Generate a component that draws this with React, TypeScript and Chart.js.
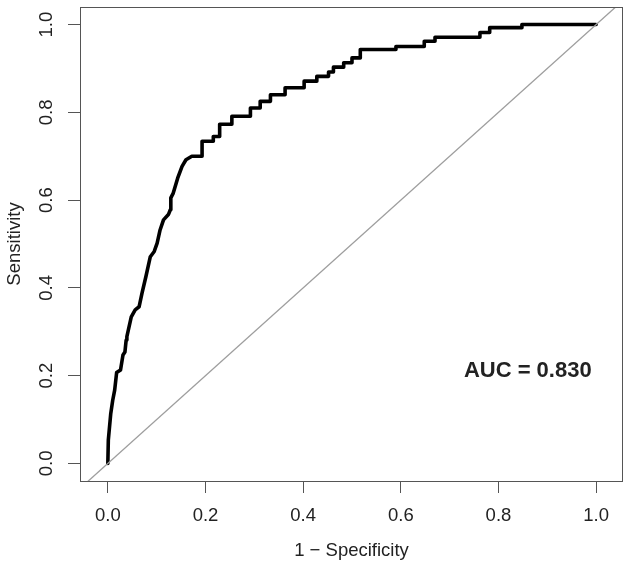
import React, { useEffect, useRef } from "react";
import { Chart, registerables } from "chart.js";

Chart.register(...registerables);

// ROC curve vertices (1 - specificity, sensitivity)
const fpr = [
  0, 0.001, 0.006, 0.010, 0.014, 0.018, 0.026, 0.031, 0.035, 0.0375, 0.039,
  0.048, 0.056, 0.064, 0.070, 0.078, 0.087, 0.095, 0.101, 0.107, 0.114, 0.124,
  0.128, 0.129, 0.134, 0.143, 0.152, 0.160, 0.172, 0.193, 0.193, 0.216, 0.216,
  0.229, 0.229, 0.254, 0.254, 0.292, 0.292, 0.312, 0.312, 0.333, 0.333, 0.363,
  0.363, 0.402, 0.402, 0.428, 0.428, 0.452, 0.452, 0.462, 0.462, 0.483, 0.483,
  0.500, 0.500, 0.517, 0.517, 0.590, 0.590, 0.648, 0.648, 0.670, 0.670, 0.762,
  0.762, 0.782, 0.782, 0.848, 0.848, 1.0,
];
const tpr = [
  0, 0.053, 0.114, 0.144, 0.167, 0.207, 0.213, 0.247, 0.254, 0.281, 0.289,
  0.334, 0.350, 0.357, 0.388, 0.426, 0.471, 0.483, 0.502, 0.532, 0.555, 0.567,
  0.578, 0.605, 0.616, 0.650, 0.677, 0.692, 0.700, 0.700, 0.734, 0.734, 0.745,
  0.745, 0.773, 0.773, 0.791, 0.791, 0.810, 0.810, 0.825, 0.825, 0.840, 0.840,
  0.856, 0.856, 0.871, 0.871, 0.882, 0.882, 0.892, 0.892, 0.903, 0.903, 0.913,
  0.913, 0.924, 0.924, 0.943, 0.943, 0.950, 0.950, 0.962, 0.962, 0.971, 0.971,
  0.982, 0.982, 0.993, 0.993, 1.0, 1.0,
];

// reference diagonal (chance line), clipped to the plot box
const diagX = [-0.2, 1.2];
const diagY = [-0.2, 1.2];

const tickValues = [0, 0.2, 0.4, 0.6, 0.8, 1.0];
const tickLabels = ["0.0", "0.2", "0.4", "0.6", "0.8", "1.0"];
const xTitle = "1 \u2212 Specificity";
const yTitle = "Sensitivity";
const aucLabel = "AUC = 0.830";
const aucX = 0.86;
const aucY = 0.214;

const FONT = "'Liberation Sans', Arial, Helvetica, sans-serif";
const TEXT = "#222";
const FRAME = "#555";

export default function App() {
  const ref = useRef<HTMLCanvasElement | null>(null);

  useEffect(() => {
    document.body.style.margin = "0";
    const canvas = ref.current;
    if (!canvas) return;

    const rPlot = {
      id: "rPlot",
      afterDraw(chart: any) {
        const { ctx, chartArea, scales } = chart;
        const xs = scales.x;
        const ys = scales.y;
        ctx.save();
        // box
        ctx.strokeStyle = FRAME;
        ctx.lineWidth = 1;
        ctx.strokeRect(
          Math.round(chartArea.left) + 0.5,
          Math.round(chartArea.top) + 0.5,
          Math.round(chartArea.right - chartArea.left) - 1,
          Math.round(chartArea.bottom - chartArea.top)
        );
        ctx.fillStyle = TEXT;
        // y tick labels, rotated as in R
        ctx.font = `18.5px ${FONT}`;
        ctx.textAlign = "center";
        ctx.textBaseline = "alphabetic";
        tickValues.forEach((v, i) => {
          const py = ys.getPixelForValue(v);
          ctx.save();
          ctx.translate(52.3, py);
          ctx.rotate(-Math.PI / 2);
          ctx.fillText(tickLabels[i], 0, 0);
          ctx.restore();
        });
        // axis titles
        const cx = (chartArea.left + chartArea.right) / 2;
        const cy = (chartArea.top + chartArea.bottom) / 2;
        ctx.fillText(xTitle, cx, 556);
        ctx.save();
        ctx.translate(20, cy);
        ctx.rotate(-Math.PI / 2);
        ctx.fillText(yTitle, 0, 0);
        ctx.restore();
        // AUC label
        ctx.font = `bold 22px ${FONT}`;
        ctx.fillText(
          aucLabel,
          xs.getPixelForValue(aucX),
          ys.getPixelForValue(aucY) + 7.9
        );
        ctx.restore();
      },
    };

    const setTicks = (scale: any) => {
      scale.ticks = tickValues.map((v) => ({ value: v }));
    };

    const chart = new Chart(canvas, {
      type: "scatter",
      data: {
        datasets: [
          {
            data: diagX.map((x, i) => ({ x, y: diagY[i] })),
            showLine: true,
            borderColor: "#9e9e9e",
            borderWidth: 1.3,
            pointRadius: 0,
          },
          {
            data: fpr.map((x, i) => ({ x, y: tpr[i] })),
            showLine: true,
            borderColor: "#000",
            borderWidth: 3.6,
            borderJoinStyle: "round",
            borderCapStyle: "round",
            pointRadius: 0,
          },
        ],
      },
      options: {
        animation: false,
        responsive: false,
        devicePixelRatio: 1,
        layout: { padding: { top: 7, right: 7, left: 0, bottom: 0 } },
        plugins: {
          legend: { display: false },
          tooltip: { enabled: false },
        },
        scales: {
          x: {
            type: "linear",
            min: -0.057,
            max: 1.055,
            afterBuildTicks: setTicks,
            afterFit: (s: any) => {
              s.height = 83;
            },
            border: { display: false },
            grid: {
              drawOnChartArea: false,
              drawTicks: true,
              tickLength: 12,
              color: FRAME,
              lineWidth: 1,
            },
            ticks: {
              padding: 12,
              color: TEXT,
              font: { family: FONT, size: 18.5 },
              maxRotation: 0,
              minRotation: 0,
              callback: (_v: any, i: number) => tickLabels[i],
            },
          },
          y: {
            type: "linear",
            min: -0.04,
            max: 1.04,
            afterBuildTicks: setTicks,
            afterFit: (s: any) => {
              s.width = 80;
            },
            border: { display: false },
            grid: {
              drawOnChartArea: false,
              drawTicks: true,
              tickLength: 12,
              color: FRAME,
              lineWidth: 1,
            },
            ticks: { display: false },
          },
        },
      },
      plugins: [rPlot],
    } as any);

    return () => chart.destroy();
  }, []);

  return (
    <div style={{ width: 630, height: 564, background: "#fff" }}>
      <canvas ref={ref} width={630} height={564} style={{ display: "block" }} />
    </div>
  );
}
